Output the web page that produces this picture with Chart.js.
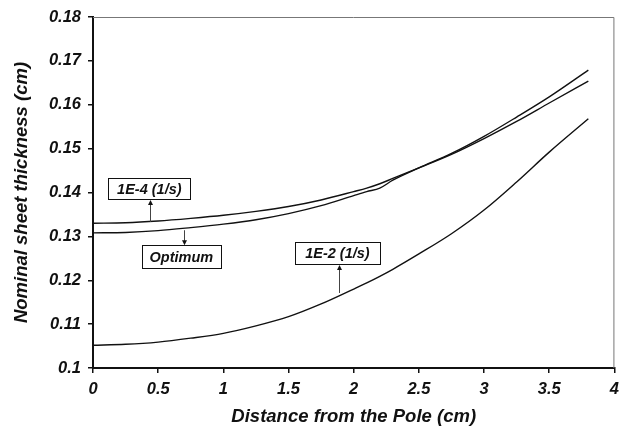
<!DOCTYPE html>
<html>
<head>
<meta charset="utf-8">
<script src="https://cdn.jsdelivr.net/npm/chart.js@4.4.1/dist/chart.umd.min.js"></script>
<style>
  html, body { margin:0; padding:0; background:#fff; }
  #wrap { width:626px; height:427px; }
</style>
</head>
<body>
<div id="wrap"><canvas id="chart" width="626" height="427"></canvas></div>
<script>
// ================= DATA =================
const distance   = [0, 0.25, 0.5, 0.75, 1, 1.25, 1.5, 1.75, 2, 2.1, 2.2, 2.3, 2.5, 2.75, 3, 3.25, 3.5, 3.8];
const rate1e4    = [0.1330, 0.1331, 0.1335, 0.1341, 0.1348, 0.1357, 0.1368, 0.1383, 0.1402, 0.1410, 0.1420, 0.1432, 0.1456, 0.1487, 0.1523, 0.1562, 0.1604, 0.1654];
const optimum    = [0.1308, 0.1309, 0.1313, 0.1320, 0.1328, 0.1338, 0.1352, 0.1370, 0.1393, 0.1402, 0.1410, 0.1428, 0.1456, 0.1489, 0.1528, 0.1572, 0.1618, 0.1679];
const rate1e2    = [0.1052, 0.1054, 0.1059, 0.1068, 0.1079, 0.1096, 0.1117, 0.1146, 0.1180, 0.1194, 0.1209, 0.1225, 0.1260, 0.1306, 0.1360, 0.1424, 0.1492, 0.1568];

const xTickLabels = ['0', '0.5', '1', '1.5', '2', '2.5', '3', '3.5', '4'];
const yTickLabels = ['0.1', '0.11', '0.12', '0.13', '0.14', '0.15', '0.16', '0.17', '0.18'];

// callouts: text, box centre (data units), arrow x, arrow start/end y (data units)
const callouts = [
  { text:'1E-4 (1/s)', x:0.432, y:0.1409, w:82, h:21, ax:0.44, y0:0.1333, y1:0.13827 },
  { text:'Optimum',    x:0.678, y:0.1254, w:79, h:23, ax:0.70, y0:0.1314, y1:0.1280 },
  { text:'1E-2 (1/s)', x:1.875, y:0.1262, w:85, h:22, ax:1.89, y0:0.1171, y1:0.12346 }
];

function toPoints(ys){ return distance.map((x,i)=>({x:x, y:ys[i]})); }

const FONT = "'Liberation Sans', Arial, sans-serif";

// gray top/right frame
const framePlugin = {
  id:'frame',
  beforeDatasetsDraw(c){
    const a = c.chartArea, ctx = c.ctx;
    ctx.save();
    ctx.strokeStyle = '#777';
    ctx.lineWidth = 1;
    ctx.beginPath();
    ctx.moveTo(a.left, a.top + 0.5);
    ctx.lineTo(a.right - 0.5, a.top + 0.5);
    ctx.lineTo(a.right - 0.5, a.bottom);
    ctx.stroke();
    ctx.restore();
  }
};

// boxed labels with arrows
const calloutPlugin = {
  id:'callouts',
  afterDatasetsDraw(c){
    const ctx = c.ctx, xs = c.scales.x, ys = c.scales.y;
    ctx.save();
    callouts.forEach(o=>{
      const cx = xs.getPixelForValue(o.x), cy = ys.getPixelForValue(o.y);
      ctx.fillStyle = '#fff';
      ctx.fillRect(cx - o.w/2, cy - o.h/2, o.w, o.h);
      ctx.strokeStyle = '#111';
      ctx.lineWidth = 1;
      ctx.strokeRect(Math.round(cx - o.w/2) + 0.5, Math.round(cy - o.h/2) + 0.5, o.w, o.h);
      ctx.fillStyle = '#111';
      ctx.font = "italic bold 14.5px " + FONT;
      ctx.textAlign = 'center';
      ctx.textBaseline = 'middle';
      ctx.fillText(o.text, cx, cy + 1);

      const px = Math.round(xs.getPixelForValue(o.ax)) + 0.5;
      const p0 = ys.getPixelForValue(o.y0), p1 = ys.getPixelForValue(o.y1);
      const dir = p1 < p0 ? -1 : 1;
      ctx.strokeStyle = '#444';
      ctx.beginPath();
      ctx.moveTo(px, p0);
      ctx.lineTo(px, p1 - dir*4);
      ctx.stroke();
      ctx.fillStyle = '#111';
      ctx.beginPath();
      ctx.moveTo(px, p1);
      ctx.lineTo(px - 2.5, p1 - dir*5);
      ctx.lineTo(px + 2.5, p1 - dir*5);
      ctx.closePath();
      ctx.fill();
    });
    ctx.restore();
  }
};

const lineStyle = { borderColor:'#111', borderWidth:1.4, pointRadius:0, fill:false, cubicInterpolationMode:'monotone' };

new Chart(document.getElementById('chart').getContext('2d'), {
  type:'line',
  data:{
    datasets:[
      Object.assign({ label:'1E-4 (1/s)', data:toPoints(rate1e4) }, lineStyle),
      Object.assign({ label:'Optimum',    data:toPoints(optimum) }, lineStyle),
      Object.assign({ label:'1E-2 (1/s)', data:toPoints(rate1e2) }, lineStyle)
    ]
  },
  options:{
    animation:false,
    responsive:false,
    layout:{ padding:{ top:17, right:5, left:0, bottom:0 } },
    plugins:{ legend:{display:false}, tooltip:{enabled:false} },
    scales:{
      x:{
        type:'linear', min:0, max:4,
        afterFit(s){ s.height = 59; },
        ticks:{ stepSize:0.5, color:'#111', padding:7, maxRotation:0,
                font:{ family:FONT, size:16.5, style:'italic', weight:'bold' },
                callback:(v,i)=>xTickLabels[i] },
        grid:{ drawOnChartArea:false, drawTicks:true, tickLength:5, color:'#111', lineWidth:1.5 },
        border:{ display:true, color:'#111', width:2 },
        title:{ display:true, text:'Distance from the Pole (cm)', color:'#111', padding:{top:4, bottom:-1},
                font:{ family:FONT, size:18.5, style:'italic', weight:'bold' } }
      },
      y:{
        min:0.1, max:0.18,
        afterFit(s){ s.width = 93; },
        ticks:{ stepSize:0.01, color:'#111', padding:7,
                font:{ family:FONT, size:16.5, style:'italic', weight:'bold' },
                callback:(v,i)=>yTickLabels[i] },
        grid:{ drawOnChartArea:false, drawTicks:true, tickLength:5, color:'#111', lineWidth:1.5 },
        border:{ display:true, color:'#111', width:2 },
        title:{ display:true, text:'Nominal sheet thickness (cm)', color:'#111', padding:{top:11, bottom:0},
                font:{ family:FONT, size:18.5, style:'italic', weight:'bold' } }
      }
    }
  },
  plugins:[framePlugin, calloutPlugin]
});
</script>
</body>
</html>
